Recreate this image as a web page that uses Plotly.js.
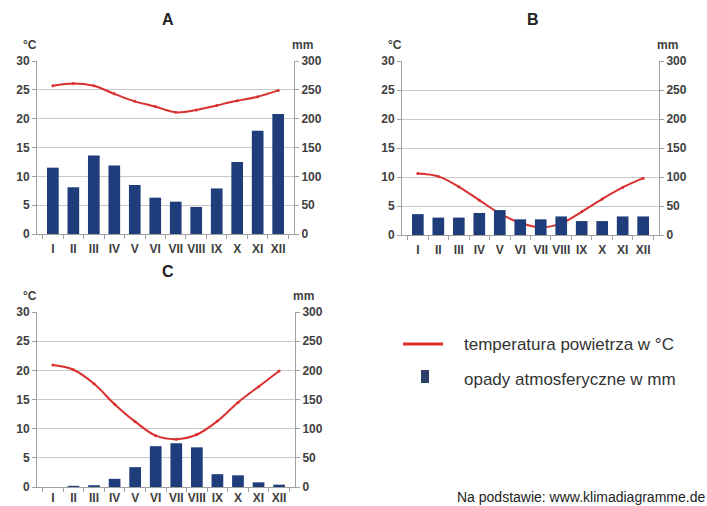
<!DOCTYPE html>
<html><head><meta charset="utf-8">
<script src="https://cdn.plot.ly/plotly-3.0.1.min.js"></script>
<style>html,body{margin:0;padding:0;background:#fff;}#chart{width:707px;height:506px;}</style>
</head><body><div id="chart"></div>
<script>
const months = ["I","II","III","IV","V","VI","VII","VIII","IX","X","XI","XII"];
const tempA = [25.7,26.1,25.7,24.3,23.0,22.1,21.1,21.5,22.3,23.1,23.8,24.9];
const precA = [115,81,136,119,85,63,56,47,79,125,179,208];
const tempB = [10.6,10.1,8.3,6.0,3.7,2.1,1.3,2.0,4.0,6.2,8.2,9.8];
const precB = [36,30,30,38,43,27,27,32,24,24,32,32];
const tempC = [20.9,20.1,17.7,14.2,11.2,8.8,8.2,9.0,11.3,14.5,17.2,19.9];
const precC = [0,2,3,14,34,70,75,68,22,20,8,4];
const tempTicks = [0,5,10,15,20,25,30];
const precTicks = [0,50,100,150,200,250,300];
const panelTitles = ["A","B","C"];
const legendTemp = "temperatura powietrza w °C";
const legendPrec = "opady atmosferyczne w mm";
const sourceText = "Na podstawie: www.klimadiagramme.de";

const W = 707, H = 506;
const FF = "Liberation Sans, Arial, sans-serif";
const barColor = "#1f3d7a", lineColor = "#d9302f";
const tickFont = {family:FF, size:12, color:"#404040", weight:"bold"};

// panel pixel boxes [left,right,top,bottom]
const boxes = [[37,294,61,234],[402,659,61,235],[37,295,312,487]];
const standoffs = [4,4,0];
const temps = [tempA,tempB,tempC];
const precs = [precA,precB,precC];

const data = [];
const layout = {
  width: W, height: H, margin:{l:0,r:0,t:0,b:0},
  paper_bgcolor:"#fff", plot_bgcolor:"#fff", showlegend:false,
  annotations: [], shapes: [], bargap: 0.43
};

function ann(text, px, py, font, xanchor){
  layout.annotations.push({text:text, xref:"paper", yref:"paper", x:px/W, y:1-py/H,
    xanchor:xanchor||"center", yanchor:"middle", showarrow:false, font:font});
}

boxes.forEach((b,i)=>{
  const n = i+1;
  const xs = n===1?"":String(n);
  const xd = [b[0]/W, b[1]/W];
  const yd = [1-b[3]/H, 1-b[2]/H];
  const xa = "x"+xs, yL = "y"+(n===1?"":String(2*n-1)), yR = "y"+String(2*n);
  const yLname = "yaxis"+(n===1?"":String(2*n-1)), yRname = "yaxis"+String(2*n);
  layout["xaxis"+xs] = {domain:xd, anchor:yL, type:"category", categoryorder:"array", categoryarray:months,
    tickfont:tickFont, tickangle:0, showgrid:false, showline:true, linecolor:"#a0a0a0", linewidth:1,
    ticks:"outside", ticklen:4, tickcolor:"#a0a0a0", tickson:"boundaries", fixedrange:true, zeroline:false,
    ticklabelstandoff:standoffs[i]};
  layout[yLname] = {domain:yd, anchor:xa, range:[0,30], tickvals:tempTicks, tickfont:tickFont,
    showgrid:true, gridcolor:"#c8c8c8", gridwidth:1, showline:true, linecolor:"#a0a0a0",
    ticks:"outside", ticklen:4, tickcolor:"#a0a0a0", zeroline:false};
  layout[yRname] = {domain:yd, anchor:xa, overlaying:yL, side:"right", range:[0,300], tickvals:precTicks,
    tickfont:tickFont, showgrid:false, showline:true, linecolor:"#a0a0a0",
    ticks:"outside", ticklen:4, tickcolor:"#a0a0a0", zeroline:false};
  data.push({type:"bar", x:months, y:precs[i], xaxis:xa, yaxis:yR, marker:{color:barColor, line:{width:0}}, hoverinfo:"skip"});
  data.push({type:"scatter", mode:"lines+markers", x:months, y:temps[i], xaxis:xa, yaxis:yL,
    line:{color:lineColor, width:2, shape:"spline", smoothing:1}, marker:{size:3, color:lineColor}, hoverinfo:"skip"});
  const cx = (b[0]+b[1])/2;
  ann("<b>"+panelTitles[i]+"</b>", cx+2, b[2]-41, {family:FF, size:16, color:"#222"});
  ann("<b>°C</b>", b[0]-7, b[2]-16, {family:FF, size:12, color:"#404040"});
  ann("<b>mm</b>", b[1]+8, b[2]-16, {family:FF, size:12, color:"#404040"});
});

// legend
layout.shapes.push({type:"line", xref:"paper", yref:"paper", x0:403/W, x1:443/W, y0:1-344/H, y1:1-344/H, line:{color:lineColor, width:3}});
layout.shapes.push({type:"rect", xref:"paper", yref:"paper", x0:421/W, x1:429/W, y0:1-383/H, y1:1-370/H, fillcolor:"#2e3f66", line:{width:0}});
ann(legendTemp, 462, 344, {family:FF, size:17, color:"#333"}, "left");
ann(legendPrec, 462, 379, {family:FF, size:17, color:"#333"}, "left");
ann(sourceText, 707, 497, {family:FF, size:14, color:"#222"}, "right");

Plotly.newPlot("chart", data, layout, {staticPlot:true, displayModeBar:false});
</script></body></html>
